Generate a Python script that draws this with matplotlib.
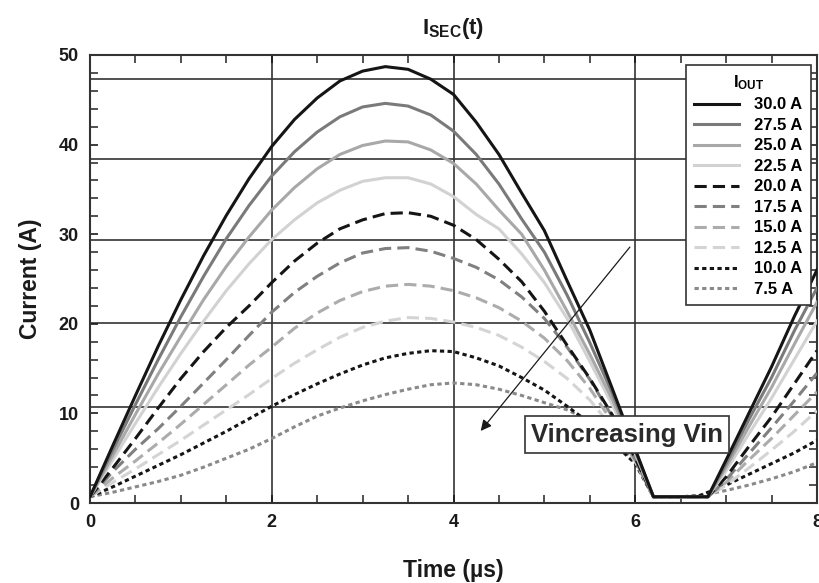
import matplotlib
matplotlib.use("Agg")
import matplotlib.pyplot as plt
from matplotlib.ticker import MultipleLocator

plt.rcParams['font.family'] = ['Liberation Sans', 'DejaVu Sans']
plt.rcParams['font.weight'] = 'bold'
plt.rcParams['mathtext.fontset'] = 'custom'
plt.rcParams['mathtext.bf'] = 'Liberation Sans:bold'
plt.rcParams['mathtext.rm'] = 'Liberation Sans:bold'

# time axis (µs), shared by all load currents
t = [0, 0.25, 0.5, 0.75, 1.0, 1.25, 1.5, 1.75, 2.0, 2.25, 2.5, 2.75, 3.0, 3.25,
     3.5, 3.75, 4.0, 4.25, 4.5, 4.75, 5.0, 5.25, 5.5, 5.75, 6.0, 6.2, 6.5, 6.7,
     6.8, 7.0, 7.25, 7.5, 7.75, 8.0]

# secondary current (A) for each output current
i_30 = [0.7, 6.4, 12.0, 17.5, 22.7, 27.6, 32.1, 36.2, 39.8, 42.8, 45.2, 47.1, 48.2, 48.7,
        48.4, 47.3, 45.6, 42.5, 38.9, 34.6, 30.4, 24.8, 19.3, 12.7, 6.0, 0.7, 0.7, 0.7,
        0.7, 4.8, 10.0, 15.2, 20.8, 26.0]
i_275 = [0.7, 5.9, 11.0, 16.0, 20.8, 25.3, 29.5, 33.2, 36.5, 39.2, 41.4, 43.1, 44.2, 44.6,
         44.3, 43.3, 41.5, 38.9, 35.6, 31.7, 28.0, 23.2, 17.9, 12.2, 5.9, 0.7, 0.7, 0.7,
         0.7, 4.4, 9.3, 14.0, 19.2, 24.0]
i_25 = [0.7, 5.3, 9.9, 14.4, 18.6, 22.7, 26.4, 29.7, 32.7, 35.2, 37.3, 38.9, 39.9, 40.4,
        40.3, 39.4, 37.9, 35.6, 32.7, 30.0, 26.0, 21.4, 16.6, 11.5, 5.7, 0.7, 0.7, 0.7,
        0.7, 4.0, 8.5, 12.9, 17.7, 22.4]
i_225 = [0.7, 4.8, 8.9, 12.9, 16.7, 20.3, 23.7, 26.7, 29.4, 31.6, 33.5, 34.9, 35.9, 36.3,
         36.3, 35.6, 34.2, 32.2, 30.6, 27.8, 24.6, 20.6, 15.8, 10.9, 5.5, 0.7, 0.7, 0.7,
         0.7, 3.6, 7.7, 11.7, 16.0, 20.3]
i_20 = [0.7, 3.9, 7.2, 10.6, 13.9, 16.9, 19.6, 22.0, 24.6, 27.0, 29.0, 30.6, 31.6, 32.3,
        32.4, 32.0, 31.0, 29.4, 27.2, 24.7, 21.4, 17.6, 13.9, 9.8, 5.0, 0.7, 0.7, 0.7,
        0.7, 2.9, 6.3, 9.6, 13.3, 17.0]
i_175 = [0.7, 3.5, 6.0, 8.3, 10.8, 13.4, 16.0, 18.7, 21.3, 23.5, 25.3, 26.8, 27.9, 28.4,
         28.5, 28.1, 27.3, 26.3, 24.9, 23.0, 20.6, 17.4, 13.8, 9.6, 4.9, 0.7, 0.7, 0.7,
         0.7, 2.6, 5.5, 8.4, 11.4, 14.5]
i_15 = [0.7, 2.8, 4.7, 6.7, 8.8, 11.0, 13.2, 15.4, 17.4, 19.5, 21.2, 22.6, 23.6, 24.2,
        24.4, 24.2, 23.7, 22.9, 21.8, 20.3, 18.4, 15.9, 12.8, 9.0, 4.7, 0.7, 0.7, 0.7,
        0.7, 2.3, 4.8, 7.2, 9.8, 12.4]
i_125 = [0.7, 2.3, 3.8, 5.4, 7.0, 8.7, 10.4, 12.1, 13.9, 15.6, 17.1, 18.5, 19.6, 20.3,
         20.7, 20.6, 20.2, 19.6, 18.7, 17.4, 15.8, 13.9, 11.5, 8.4, 4.6, 0.7, 0.7, 0.7,
         0.7, 2.0, 3.9, 5.9, 8.0, 10.3]
i_10 = [0.7, 1.8, 3.0, 4.2, 5.4, 6.7, 8.0, 9.4, 10.8, 12.1, 13.3, 14.4, 15.4, 16.2,
        16.7, 17.0, 16.9, 16.2, 15.3, 14.0, 12.6, 10.8, 8.9, 6.8, 4.4, 0.7, 0.7, 0.8,
        1.2, 2.0, 3.2, 4.4, 5.6, 7.0]
i_75 = [0.7, 1.2, 1.8, 2.4, 3.1, 4.0, 5.0, 6.0, 7.2, 8.5, 9.7, 10.6, 11.4, 12.1,
        12.7, 13.2, 13.4, 13.2, 12.7, 12.0, 11.2, 10.4, 9.2, 7.2, 4.5, 0.7, 0.7, 0.8,
        1.0, 1.4, 2.0, 2.7, 3.5, 4.5]

labels = ['30.0 A', '27.5 A', '25.0 A', '22.5 A', '20.0 A',
          '17.5 A', '15.0 A', '12.5 A', '10.0 A', '7.5 A']
series = [i_30, i_275, i_25, i_225, i_20, i_175, i_15, i_125, i_10, i_75]
colors = ['#151515', '#7a7a7a', '#a8a8a8', '#d2d2d2',
          '#151515', '#808080', '#acacac', '#d4d4d4',
          '#151515', '#8a8a8a']
styles = ['solid'] * 4 + [(0, (4, 2))] * 4 + [(0, (1.4, 1.1))] * 2

# odd horizontal reference lines of the original scan
hgrid = [10.7, 20.1, 29.35, 38.4, 47.3]

fig = plt.figure(figsize=(8.2, 5.83), dpi=100)
ax = fig.add_axes([0.1098, 0.1372, 0.8865, 0.7685])

for x in [2, 4, 6]:
    ax.axvline(x, color='#333333', lw=1.2, zorder=1)
for y in hgrid:
    ax.axhline(y, color='#333333', lw=1.2, zorder=1)

# draw light loads first so the heavy curves sit on top
lines = []
for k in range(len(series) - 1, -1, -1):
    ln, = ax.plot(t, series[k], color=colors[k], lw=2.2, linestyle=styles[k],
                  label=labels[k], zorder=3 + (10 - k) * 0.01)
    lines.insert(0, ln)

ax.set_xlim(0, 8)
ax.set_ylim(0, 50)
ax.xaxis.set_major_locator(MultipleLocator(2))
ax.xaxis.set_minor_locator(MultipleLocator(0.5))
ax.yaxis.set_major_locator(MultipleLocator(10))
ax.yaxis.set_minor_locator(MultipleLocator(2))
ax.tick_params(which='both', direction='in', top=True, right=True,
               color='#333333', width=1.2)
ax.tick_params(which='major', length=6, labelsize=13, colors='#1a1a1a', pad=8)
ax.tick_params(which='minor', length=6)
for lab in ax.get_xticklabels() + ax.get_yticklabels():
    lab.set_fontweight('bold')
for s in ax.spines.values():
    s.set_color('#333333')
    s.set_linewidth(1.5)

ax.set_xlabel('Time (µs)', fontsize=16.5, fontweight='bold', color='#1a1a1a', labelpad=20)
ax.set_ylabel('Current (A)', fontsize=16.5, fontweight='bold', color='#1a1a1a', labelpad=12)
ax.set_title(r'$\mathbf{I_{SEC}(t)}$', fontsize=16, color='#1a1a1a', pad=15)

leg = ax.legend(handles=lines, loc='upper right', bbox_to_anchor=(0.992, 0.978),
                borderaxespad=0, fancybox=False, edgecolor='#333333', framealpha=1,
                title=r'$\mathbf{I_{OUT}}$', title_fontsize=12,
                prop={'weight': 'bold', 'size': 12}, handlelength=2.7,
                labelspacing=0.33, handletextpad=0.9, borderpad=0.5)
leg.get_frame().set_linewidth(1.2)
leg.set_zorder(10)

ax.annotate('', xy=(4.28, 7.8), xytext=(5.96, 28.8),
            arrowprops=dict(arrowstyle='-|>', color='#1a1a1a', lw=0.9,
                            mutation_scale=16), zorder=6)
ax.text(5.91, 7.6, 'Vincreasing Vin', fontsize=18.5, fontweight='bold', color='#2a2a2a',
        ha='center', va='center', zorder=7,
        bbox=dict(boxstyle='square,pad=0.25', facecolor='white', edgecolor='#333333', lw=1.2))

fig.savefig('out.png', dpi=100)
